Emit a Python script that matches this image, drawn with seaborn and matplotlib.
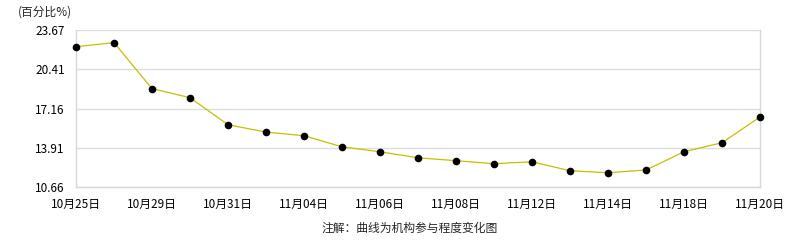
import matplotlib
matplotlib.use("Agg")
import matplotlib.pyplot as plt
import seaborn as sns
import pandas as pd

dates = ["10月25日", "10月27日", "10月29日", "10月30日", "10月31日", "11月01日",
         "11月04日", "11月05日", "11月06日", "11月07日", "11月08日", "11月11日",
         "11月12日", "11月13日", "11月14日", "11月15日", "11月18日", "11月19日",
         "11月20日"]
values = [22.29, 22.62, 18.81, 18.06, 15.82, 15.21, 14.91, 13.99, 13.58, 13.08,
          12.84, 12.59, 12.75, 12.01, 11.84, 12.07, 13.58, 14.33, 16.46]
ytick_values = [10.66, 13.91, 17.16, 20.41, 23.67]
ytick_labels = ["10.66", "13.91", "17.16", "20.41", "23.67"]
title_text = "(百分比%)"
note_text = "注解：曲线为机构参与程度变化图"

sns.set_theme(style="white")
plt.rcParams['font.family'] = ['Noto Sans CJK SC', 'DejaVu Sans']

df = pd.DataFrame({"idx": range(len(dates)), "date": dates, "value": values})

fig = plt.figure(figsize=(7.86, 2.40), dpi=100)
ax = fig.add_axes([76/786, 1-187/240, (760-76)/786, (187-30)/240])

sns.lineplot(data=df, x="idx", y="value", ax=ax, color="#c4c000", linewidth=0.9,
             marker="o", markersize=5.5, markerfacecolor="black",
             markeredgecolor="black", markeredgewidth=0, clip_on=False, zorder=5)

ax.set_xlim(0, len(dates) - 1)
ax.set_ylim(ytick_values[0], ytick_values[-1])
ax.set_yticks(ytick_values)
ax.set_yticklabels(ytick_labels, fontsize=8.5, color="black")
ax.set_xticks(list(range(len(dates))))
ax.set_xticklabels([d if i % 2 == 0 else "" for i, d in enumerate(dates)],
                   fontsize=8.5, color="black")
ax.set_xlabel("")
ax.set_ylabel("")
ax.grid(axis="y", color="#dddddd", linewidth=1)
ax.set_axisbelow(True)
for s in ["left", "right", "bottom"]:
    ax.spines[s].set_color("#d8d8d8")
    ax.spines[s].set_linewidth(1)
ax.spines["top"].set_visible(False)
ax.tick_params(axis="x", direction="out", length=8, width=1, color="#d8d8d8", pad=0)
ax.tick_params(axis="y", length=0, pad=8)

fig.text(18/786, 1-12/240, title_text, fontsize=8.5, ha="left", va="center")
fig.text(410/786, 1-228/240, note_text, fontsize=8.5, ha="center", va="center")

fig.savefig("out.png", dpi=100)
